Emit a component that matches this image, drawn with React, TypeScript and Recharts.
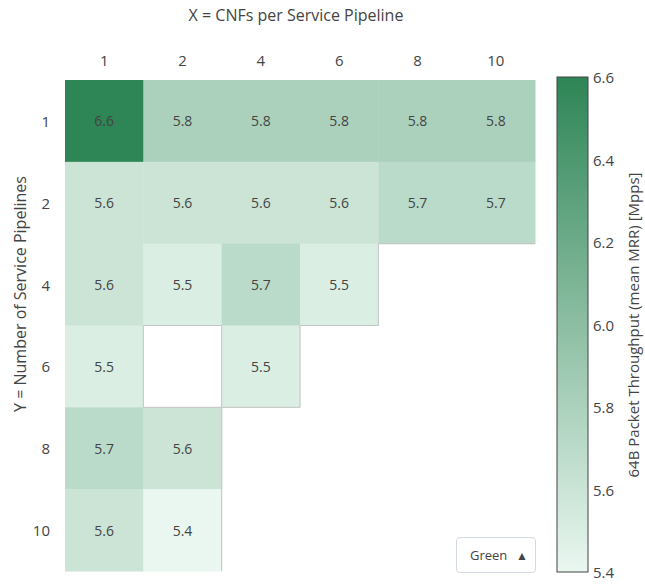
import { ScatterChart, Scatter, XAxis, YAxis } from "recharts";

// Grid labels (top axis = CNFs per pipeline, left axis = number of pipelines)
const xLabels = ["1", "2", "4", "6", "8", "10"];
const yLabels = ["1", "2", "4", "6", "8", "10"];

// Mean MRR throughput [Mpps], one array per pipeline count; null = not measured
const pipelines1 = [6.6, 5.8, 5.8, 5.8, 5.8, 5.8];
const pipelines2 = [5.6, 5.6, 5.6, 5.6, 5.7, 5.7];
const pipelines4 = [5.6, 5.5, 5.7, 5.5, null, null];
const pipelines6 = [5.5, null, 5.5, null, null, null];
const pipelines8 = [5.7, 5.6, null, null, null, null];
const pipelines10 = [5.6, 5.4, null, null, null, null];

const colorbarTicks = [5.4, 5.6, 5.8, 6.0, 6.2, 6.4, 6.6];

const grid: (number | null)[][] = [
  pipelines1,
  pipelines2,
  pipelines4,
  pipelines6,
  pipelines8,
  pipelines10,
];

const Z_MIN = 5.4;
const Z_MAX = 6.6;
const LOW: [number, number, number] = [234, 247, 240];
const HIGH: [number, number, number] = [46, 133, 86];

const WIDTH = 645;
const HEIGHT = 585;
const PLOT_LEFT = 65;
const PLOT_TOP = 80;
const PLOT_W = 470;
const PLOT_H = 491;
const CELL_W = PLOT_W / xLabels.length;
const CELL_H = PLOT_H / yLabels.length;

const FONT = "'Open Sans', sans-serif";
const TEXT = "#444";
const EDGE = "#c4c4c4";

function colorFor(v: number): string {
  const t = Math.max(0, Math.min(1, (v - Z_MIN) / (Z_MAX - Z_MIN)));
  const c = LOW.map((lo, i) => Math.round(lo + (HIGH[i] - lo) * t));
  return `rgb(${c[0]},${c[1]},${c[2]})`;
}

const cells = grid.flatMap((row, yi) =>
  row
    .map((value, xi) => ({ x: xi, y: yi, value }))
    .filter((c) => c.value !== null)
);

function isEmpty(xi: number, yi: number): boolean {
  if (xi < 0 || yi < 0 || xi >= xLabels.length || yi >= yLabels.length) return false;
  return grid[yi][xi] === null;
}

function HeatCell(props: any) {
  const { cx, cy, payload } = props;
  const { x, y, value } = payload;
  const x0 = cx - CELL_W / 2;
  const y0 = cy - CELL_H / 2;
  const x1 = x0 + CELL_W;
  const y1 = y0 + CELL_H;
  return (
    <g>
      <rect x={x0} y={y0} width={CELL_W + 0.5} height={CELL_H + 0.5} fill={colorFor(value)} />
      {isEmpty(x + 1, y) && <line x1={x1} y1={y0} x2={x1} y2={y1} stroke={EDGE} />}
      {isEmpty(x - 1, y) && <line x1={x0} y1={y0} x2={x0} y2={y1} stroke={EDGE} />}
      {isEmpty(x, y + 1) && <line x1={x0} y1={y1} x2={x1} y2={y1} stroke={EDGE} />}
      {isEmpty(x, y - 1) && <line x1={x0} y1={y0} x2={x1} y2={y0} stroke={EDGE} />}
      <text
        x={cx}
        y={cy}
        textAnchor="middle"
        dominantBaseline="central"
        fontSize={14}
        fontFamily={FONT}
        fill={TEXT}
      >
        {value.toFixed(1)}
      </text>
    </g>
  );
}

function TopTick(props: any) {
  const { x, payload } = props;
  return (
    <text x={x} y={60} textAnchor="middle" dominantBaseline="central" fontSize={15} fontFamily={FONT} fill={TEXT}>
      {xLabels[payload.value]}
    </text>
  );
}

function LeftTick(props: any) {
  const { y, payload } = props;
  return (
    <text x={50} y={y} textAnchor="end" dominantBaseline="central" fontSize={15} fontFamily={FONT} fill={TEXT}>
      {yLabels[payload.value]}
    </text>
  );
}

function ColorBar() {
  const x = 557;
  const top = 77;
  const w = 31;
  const h = 495;
  const yOf = (v: number) => top + ((Z_MAX - v) / (Z_MAX - Z_MIN)) * h;
  return (
    <svg
      width={WIDTH}
      height={HEIGHT}
      style={{ position: "absolute", left: 0, top: 0, pointerEvents: "none" }}
    >
      <defs>
        <linearGradient id="cbar" x1="0" y1="0" x2="0" y2="1">
          <stop offset="0%" stopColor={colorFor(Z_MAX)} />
          <stop offset="100%" stopColor={colorFor(Z_MIN)} />
        </linearGradient>
      </defs>
      <rect x={x} y={top} width={w} height={h} fill="url(#cbar)" stroke={TEXT} strokeWidth={1} />
      {colorbarTicks.map((v) => (
        <text
          key={v}
          x={x + w + 5}
          y={yOf(v)}
          dominantBaseline="central"
          fontSize={15}
          fontFamily={FONT}
          fill={TEXT}
        >
          {v.toFixed(1)}
        </text>
      ))}
      <text
        transform={`translate(633, 325) rotate(-90)`}
        textAnchor="middle"
        dominantBaseline="central"
        fontSize={15}
        fontFamily={FONT}
        fill={TEXT}
      >
        64B Packet Throughput (mean MRR) [Mpps]
      </text>
      <text
        x={PLOT_LEFT + PLOT_W / 2 - 4}
        y={15}
        textAnchor="middle"
        dominantBaseline="central"
        fontSize={16}
        fontFamily={FONT}
        fill={TEXT}
      >
        X = CNFs per Service Pipeline
      </text>
      <text
        transform={`translate(20, 294) rotate(-90)`}
        textAnchor="middle"
        dominantBaseline="central"
        fontSize={16}
        fontFamily={FONT}
        fill={TEXT}
      >
        Y = Number of Service Pipelines
      </text>
    </svg>
  );
}

export default function App() {
  return (
    <div
      style={{
        position: "absolute",
        left: 0,
        top: 0,
        width: WIDTH,
        height: HEIGHT,
        background: "#fff",
        fontFamily: FONT,
      }}
    >
      <ScatterChart
        width={WIDTH}
        height={HEIGHT}
        margin={{ top: 0, right: WIDTH - PLOT_LEFT - PLOT_W, bottom: HEIGHT - PLOT_TOP - PLOT_H, left: 0 }}
      >
        <XAxis
          type="number"
          dataKey="x"
          orientation="top"
          domain={[-0.5, xLabels.length - 0.5]}
          ticks={xLabels.map((_, i) => i)}
          height={PLOT_TOP}
          axisLine={false}
          tickLine={false}
          tick={<TopTick />}
        />
        <YAxis
          type="number"
          dataKey="y"
          reversed
          domain={[-0.5, yLabels.length - 0.5]}
          ticks={yLabels.map((_, i) => i)}
          width={PLOT_LEFT}
          axisLine={false}
          tickLine={false}
          tick={<LeftTick />}
        />
        <Scatter data={cells} shape={<HeatCell />} isAnimationActive={false} />
      </ScatterChart>
      <ColorBar />
      {/* colour-scale selector box */}
      <div
        style={{
          position: "absolute",
          left: 456,
          top: 537,
          width: 80,
          height: 36,
          boxSizing: "border-box",
          border: "1px solid #d3dae2",
          borderRadius: 4,
          background: "#fff",
          color: TEXT,
          fontSize: 13,
          display: "flex",
          alignItems: "center",
          justifyContent: "space-between",
          padding: "0 7px 0 13px",
        }}
      >
        <span>Green</span>
        <span style={{ fontSize: 12 }}>▲</span>
      </div>
    </div>
  );
}
